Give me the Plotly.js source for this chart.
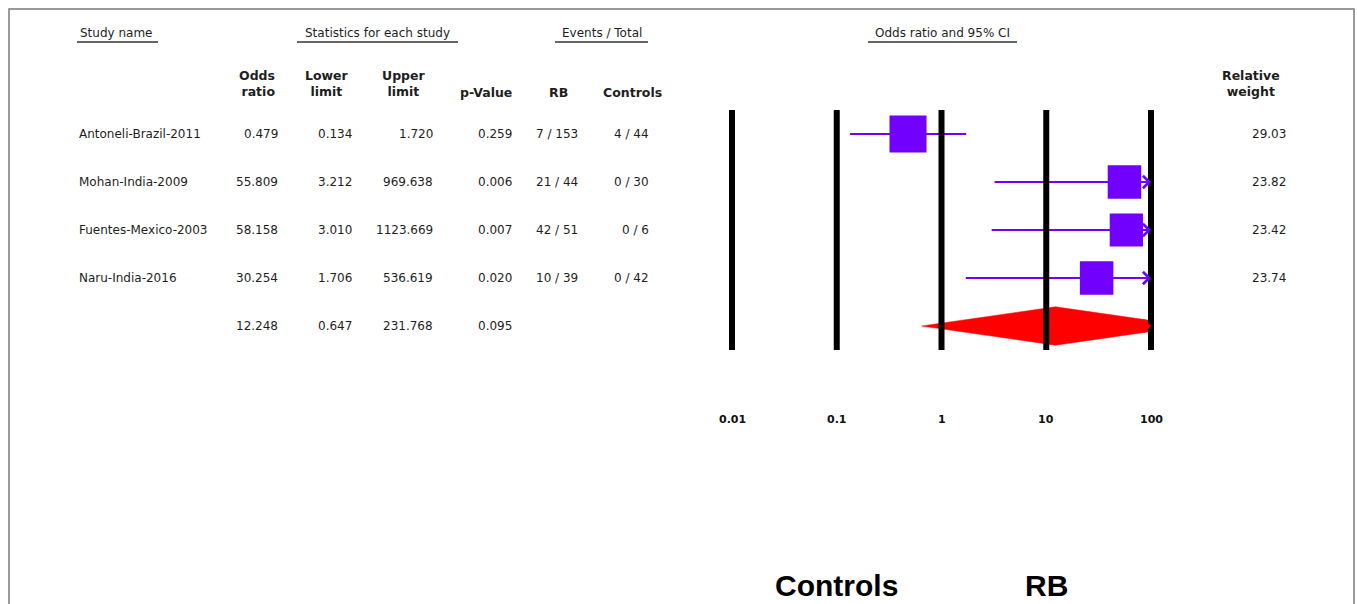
<!DOCTYPE html>
<html>
<head>
<meta charset="utf-8">
<script src="https://cdn.plot.ly/plotly-3.0.1.min.js"></script>
<style>
html,body{margin:0;padding:0;background:#fff;}
#chart{width:1357px;height:604px;}
</style>
</head>
<body>
<div id="chart"></div>
<script>
// ---- data ----
const studies = ['Antoneli-Brazil-2011', 'Mohan-India-2009', 'Fuentes-Mexico-2003', 'Naru-India-2016'];
const oddsRatio = [0.479, 55.809, 58.158, 30.254];
const lowerLimit = [0.134, 3.212, 3.010, 1.706];
const upperLimit = [1.720, 969.638, 1123.669, 536.619];
const pValue = [0.259, 0.006, 0.007, 0.020];
const eventsRB = ['7 / 153', '21 / 44', '42 / 51', '10 / 39'];
const eventsControls = ['4 / 44', '0 / 30', '0 / 6', '0 / 42'];
const relWeight = [29.03, 23.82, 23.42, 23.74];
const summaryOR = 12.248;
const summaryLower = 0.647;
const summaryUpper = 231.768;
const summaryP = 0.095;
const tickVals = [0.01, 0.1, 1, 10, 100];
const tickLabels = ['0.01', '0.1', '1', '10', '100'];
const favourLabels = ['Controls', 'RB'];
const favourAt = [0.1, 10];

// ---- layout helpers ----
const W = 1357, H = 604;
const px = v => v / W;
const py = v => 1 - v / H;
const xMin = Math.min(...tickVals), xMax = Math.max(...tickVals);
const lmin = Math.log10(xMin), lmax = Math.log10(xMax);
const pad = 0.035;
const leftPx = 732, rightPx = 1151;
const perDec = (rightPx - leftPx) / (lmax - lmin);
const nRows = studies.length + 1;
const sumRow = studies.length;

const purple = '#7100ff';
const red = '#ff0000';
const txt = '#1e1e1e';
const fReg = {family: 'DejaVu Sans', size: 12, color: txt};
const fBold = {family: 'DejaVu Sans', size: 12.5, color: txt, weight: 'bold'};

const traces = [];
// CI lines
studies.forEach((s, i) => {
  traces.push({
    type: 'scatter', mode: 'lines',
    x: [Math.max(lowerLimit[i], xMin), Math.min(upperLimit[i], xMax)],
    y: [i, i],
    line: {color: purple, width: 2.2},
    hoverinfo: 'skip'
  });
});
// squares
traces.push({
  type: 'scatter', mode: 'markers',
  x: oddsRatio, y: studies.map((s, i) => i),
  marker: {symbol: 'square', color: purple, opacity: 1, size: relWeight.map(w => 6.87 * Math.sqrt(w)), line: {width: 0}},
  hoverinfo: 'skip'
});
// summary diamond (clipped at axis max)
(function () {
  const lo = Math.log10(summaryLower), est = Math.log10(summaryOR), hi = Math.log10(summaryUpper);
  const h = 0.4, y = sumRow;
  let xs, ys;
  if (hi > lmax) {
    const t = (lmax - est) / (hi - est);
    const hh = h * (1 - t);
    xs = [lo, est, lmax, lmax, est, lo];
    ys = [y, y - h, y - hh, y + hh, y + h, y];
  } else {
    xs = [lo, est, hi, est, lo];
    ys = [y, y - h, y, y + h, y];
  }
  traces.push({
    type: 'scatter', mode: 'lines', fill: 'toself',
    x: xs.map(v => Math.pow(10, v)), y: ys,
    fillcolor: red, line: {color: red, width: 0.5},
    hoverinfo: 'skip'
  });
})();
// vertical reference lines
tickVals.forEach(v => {
  traces.push({
    type: 'scatter', mode: 'lines',
    x: [v, v], y: [-0.5, nRows - 0.5],
    line: {color: '#000', width: 6},
    hoverinfo: 'skip'
  });
});

const annotations = [];
const shapes = [];
function addText(text, x, y, anchor, font, yref) {
  annotations.push({
    text: text, x: x, y: y, xref: 'paper', yref: yref || 'paper',
    xanchor: anchor, yanchor: 'middle', showarrow: false, font: font,
    align: anchor === 'right' ? 'right' : (anchor === 'left' ? 'left' : 'center')
  });
}
// section headers
const sections = [
  ['Study name', 77, 158, 'left'],
  ['Statistics for each study', 297, 458, 'center'],
  ['Events / Total', 555, 648, 'center'],
  ['Odds ratio and 95% CI', 868, 1017, 'center']
];
sections.forEach(s => {
  const x = s[3] === 'left' ? s[1] + 1 : (s[1] + s[2]) / 2;
  addText(s[0], px(x), py(33), s[3], fReg);
  shapes.push({type: 'line', xref: 'paper', yref: 'paper', x0: px(s[1]), x1: px(s[2]), y0: py(42), y1: py(42),
    line: {color: '#333', width: 1.5}});
});
// column headers
addText('Odds<br>ratio', px(277), py(83.5), 'right', fBold);
addText('Lower<br>limit', px(327), py(83.5), 'center', fBold);
addText('Upper<br>limit', px(404), py(83.5), 'center', fBold);
addText('p-Value', px(486), py(92), 'center', fBold);
addText('RB', px(558), py(92), 'center', fBold);
addText('Controls', px(632), py(92), 'center', fBold);
addText('Relative<br>weight', px(1251), py(83.5), 'center', fBold);

// rows
studies.forEach((s, i) => {
  addText(s, px(77), i, 'left', fReg, 'y');
  addText(oddsRatio[i].toFixed(3), px(280), i, 'right', fReg, 'y');
  addText(lowerLimit[i].toFixed(3), px(354), i, 'right', fReg, 'y');
  addText(upperLimit[i].toFixed(3), px(435), i, 'right', fReg, 'y');
  addText(pValue[i].toFixed(3), px(514), i, 'right', fReg, 'y');
  addText(eventsRB[i], px(580), i, 'right', fReg, 'y');
  addText(eventsControls[i], px(651), i, 'right', fReg, 'y');
  addText(relWeight[i].toFixed(2), px(1288), i, 'right', fReg, 'y');
});
addText(summaryOR.toFixed(3), px(280), sumRow, 'right', fReg, 'y');
addText(summaryLower.toFixed(3), px(354), sumRow, 'right', fReg, 'y');
addText(summaryUpper.toFixed(3), px(435), sumRow, 'right', fReg, 'y');
addText(summaryP.toFixed(3), px(514), sumRow, 'right', fReg, 'y');

// arrows for CIs beyond axis max
const arrowRows = [];
upperLimit.forEach((u, i) => { if (u > xMax) arrowRows.push([i, purple]); });
if (summaryUpper > xMax) arrowRows.push([sumRow, red]);
arrowRows.forEach(r => {
  annotations.push({
    x: lmax, y: r[0], xref: 'x', yref: 'y', text: '', showarrow: true,
    ax: -14, ay: 0, arrowhead: 4, arrowsize: 1.7, arrowwidth: 1.4, arrowcolor: r[1]
  });
});

// tick labels
tickVals.forEach((v, k) => {
  annotations.push({
    text: tickLabels[k], x: Math.log10(v), y: py(419), xref: 'x', yref: 'paper',
    xanchor: 'center', yanchor: 'middle', showarrow: false,
    font: {family: 'DejaVu Sans', size: 11, color: '#111', weight: 'bold'}
  });
});
// favour labels
favourLabels.forEach((t, k) => {
  annotations.push({
    text: t, x: Math.log10(favourAt[k]), y: py(585), xref: 'x', yref: 'paper',
    xanchor: 'center', yanchor: 'middle', showarrow: false,
    font: {family: 'Liberation Sans', size: 30, color: '#000', weight: 'bold'}
  });
});

// outer frame
shapes.push({type: 'rect', xref: 'paper', yref: 'paper', x0: px(9), x1: px(1354), y0: -0.05, y1: py(9),
  line: {color: '#7a7a7a', width: 1.5}, layer: 'below'});

const layout = {
  width: W, height: H,
  margin: {l: 0, r: 0, t: 0, b: 0},
  paper_bgcolor: '#fff', plot_bgcolor: '#fff',
  showlegend: false, hovermode: false,
  xaxis: {
    type: 'log', range: [lmin - pad, lmax + pad],
    domain: [px(leftPx - pad * perDec), px(rightPx + pad * perDec)],
    showgrid: false, zeroline: false, showline: false, showticklabels: false, ticks: ''
  },
  yaxis: {
    range: [nRows - 0.5, -0.5],
    domain: [py(350), py(110)],
    showgrid: false, zeroline: false, showline: false, showticklabels: false, ticks: ''
  },
  annotations: annotations,
  shapes: shapes
};

Plotly.newPlot('chart', traces, layout, {staticPlot: true});
</script>
</body>
</html>
